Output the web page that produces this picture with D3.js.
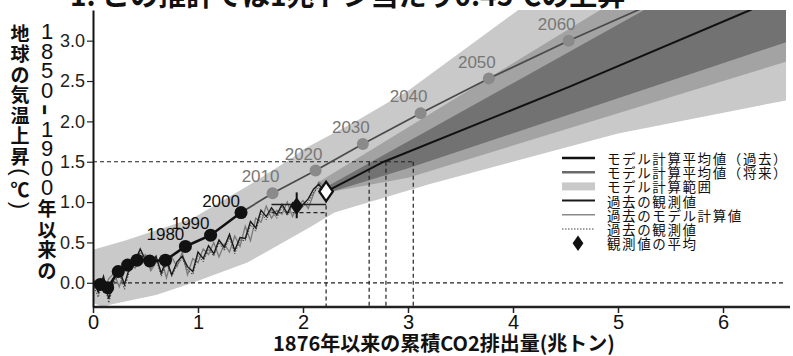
<!DOCTYPE html>
<html>
<head>
<meta charset="utf-8">
<script src="https://cdn.jsdelivr.net/npm/d3@7"></script>
<style>
  body { margin: 0; background: #fff; }
  svg { display: block; }
</style>
</head>
<body>
<div id="chart"></div>
<script>
// ---- data ----
var titleText = "1. この推計では1兆トン当たり0.45℃の上昇";
var xTicks = [0, 1, 2, 3, 4, 5, 6];
var yTicks = [0.0, 0.5, 1.0, 1.5, 2.0, 2.5, 3.0];
var xTitle = "1876年以来の累積CO2排出量(兆トン)";
var yTitleA = "地球の気温上昇(℃)";
var yTitleB = "1850-1900年以来の";

// model range bands [co2, temp]
var lightUpper = [[0,0.41],[0.3,0.52],[0.95,0.8],[1.5,1.22],[1.9,1.55],[2.0,1.65],[2.5,2.0],[3.0,2.38],[4.05,3.38],[6.6,5.3]];
var lightLower = [[0,-0.25],[0.1,-0.3],[0.17,-0.27],[0.6,-0.15],[0.95,0.0],[1.47,0.25],[2.07,0.69],[2.3,0.87],[3.2,1.22],[5.0,1.85],[6.6,2.26]];
var medUpper = [[2.15,1.25],[4.83,3.38],[6.6,4.85]];
var medLower = [[2.15,1.1],[3.0,1.3],[6.6,2.74]];
var darkUpper = [[2.2,1.17],[5.25,3.38],[6.6,4.35]];
var darkLower = [[2.2,1.1],[3.0,1.42],[6.6,2.98]];

// model mean, past (black) and future (grey)
var pastX = [0.0, 0.07, 0.14, 0.24, 0.33, 0.42, 0.54, 0.69, 0.88, 1.12, 1.41];
var pastY = [0.0, -0.02, -0.06, 0.14, 0.22, 0.28, 0.27, 0.28, 0.45, 0.59, 0.87];
var pastLabels = ["", "", "", "", "", "", "", "", "1980", "1990", "2000"];
var futX = [1.41, 1.71, 2.12, 2.57, 3.12, 3.77, 4.53, 5.4];
var futY = [0.87, 1.11, 1.39, 1.72, 2.10, 2.53, 3.0, 3.5];
var futLabels = ["", "2010", "2020", "2030", "2040", "2050", "2060", ""];

// projection from the observed point
var projX = [2.22, 2.77, 4.54, 6.26, 6.6];
var projY = [1.13, 1.5, 2.43, 3.38, 3.6];

// yearly-ish history
var histX = [0,0.05,0.1,0.15,0.2,0.25,0.3,0.35,0.4,0.45,0.5,0.55,0.6,0.65,0.7,0.75,0.8,0.85,0.9,0.95,1.0,1.05,1.1,1.15,1.2,1.25,1.3,1.35,1.4,1.45,1.5,1.55,1.6,1.65,1.7,1.75,1.8,1.85,1.9,1.95,2.0,2.05,2.1,2.15,2.2];
var obsA = [0.05,-0.12,0.08,-0.2,0.06,0.16,-0.02,0.2,0.27,0.42,0.28,0.22,0.33,0.12,0.28,0.1,0.26,0.33,0.2,0.14,0.38,0.3,0.46,0.36,0.53,0.44,0.6,0.4,0.56,0.55,0.76,0.68,0.9,0.82,0.93,0.84,0.97,0.86,0.99,0.9,0.97,1.04,1.16,1.22,1.14];
var modelPast = [0.0,0.02,-0.1,0.05,0.12,-0.05,0.15,0.25,0.18,0.3,0.35,0.15,0.25,0.3,0.06,0.32,0.2,0.38,0.1,0.3,0.25,0.42,0.35,0.5,0.32,0.48,0.38,0.58,0.45,0.7,0.52,0.8,0.75,0.95,0.8,0.9,0.85,1.0,0.82,0.95,1.02,0.92,1.1,1.25,1.2];
var obsB = [-0.02,-0.18,0.04,-0.25,0.0,0.12,-0.08,0.16,0.24,0.38,0.26,0.18,0.3,0.08,0.24,0.08,0.22,0.3,0.16,0.1,0.34,0.26,0.42,0.33,0.5,0.4,0.56,0.36,0.53,0.52,0.72,0.64,0.86,0.78,0.9,0.8,0.94,0.83,0.96,0.87,0.94,1.0,1.12,1.18,1.1];

// observed mean and the reading lines
var obsMean = {x: 1.94, y: 0.95, lo: 0.8, hi: 1.12, from: 1.7, to: 2.22, level: 0.97, dashLevel: 0.87};
var nowPoint = [2.22, 1.13];
var budgetX = [2.63, 2.79, 3.05];
var limitY = 1.5;

var legendLabels = ["モデル計算平均値（過去）", "モデル計算平均値（将来）", "モデル計算範囲", "過去の観測値", "過去のモデル計算値", "過去の観測値", "観測値の平均"];

// ---- drawing ----
var width = 793, height = 356;
var jp = "'Noto Sans CJK JP', 'Noto Sans', sans-serif";
var latin = "'Liberation Sans', Arial, sans-serif";

var x = d3.scaleLinear().domain([0, 6.6]).range([93, 786]);
var y = d3.scaleLinear().domain([-0.3, 3.38]).range([307, 10]);

var svg = d3.select("#chart").append("svg")
            .attr("width", width)
            .attr("height", height);

svg.append("defs").append("clipPath").attr("id", "plot")
   .append("rect")
   .attr("x", x(0)).attr("y", y(3.38))
   .attr("width", x(6.6) - x(0)).attr("height", y(-0.3) - y(3.38));

// title, cut off at the top like the source
svg.append("text")
   .attr("x", 70).attr("y", 6)
   .attr("font-family", jp).attr("font-weight", "bold").attr("font-size", 28)
   .attr("fill", "#111")
   .text(titleText);

var plot = svg.append("g").attr("clip-path", "url(#plot)");

function band(upper, lower) {
  return d3.line().x(function (d) { return x(d[0]); }).y(function (d) { return y(d[1]); })(upper.concat(lower.slice().reverse())) + "Z";
}
plot.append("path").attr("d", band(lightUpper, lightLower)).attr("fill", "#c9c9c9");
plot.append("path").attr("d", band(medUpper, medLower)).attr("fill", "#a3a3a3");
plot.append("path").attr("d", band(darkUpper, darkLower)).attr("fill", "#727272");

// dashed guide lines
var dash = plot.append("g").attr("stroke", "#222").attr("stroke-width", 1.2)
               .attr("stroke-dasharray", "4,3").attr("fill", "none");
dash.append("line").attr("x1", x(0)).attr("x2", x(6.6)).attr("y1", y(0)).attr("y2", y(0));
dash.append("line").attr("x1", x(0)).attr("x2", x(d3.max(budgetX))).attr("y1", y(limitY)).attr("y2", y(limitY));
budgetX.forEach(function (b) {
  dash.append("line").attr("x1", x(b)).attr("x2", x(b)).attr("y1", y(limitY)).attr("y2", y(-0.3));
});
dash.append("line").attr("x1", x(nowPoint[0])).attr("x2", x(nowPoint[0])).attr("y1", y(nowPoint[1])).attr("y2", y(-0.3));
dash.append("line").attr("x1", x(obsMean.from)).attr("x2", x(obsMean.to))
    .attr("y1", y(obsMean.dashLevel)).attr("y2", y(obsMean.dashLevel));

// noisy history
var hist = d3.line().x(function (d, i) { return x(histX[i]); }).y(function (d) { return y(d); });
plot.append("path").attr("d", hist(modelPast)).attr("fill", "none").attr("stroke", "#7a7a7a").attr("stroke-width", 1.3);
plot.append("path").attr("d", hist(obsB)).attr("fill", "none").attr("stroke", "#444").attr("stroke-width", 1).attr("stroke-dasharray", "1.5,1.5");
plot.append("path").attr("d", hist(obsA)).attr("fill", "none").attr("stroke", "#1a1a1a").attr("stroke-width", 1.4);

// observed mean bar
plot.append("line").attr("x1", x(obsMean.from)).attr("x2", x(obsMean.to))
    .attr("y1", y(obsMean.level)).attr("y2", y(obsMean.level))
    .attr("stroke", "#222").attr("stroke-width", 1.5);
plot.append("line").attr("x1", x(obsMean.x)).attr("x2", x(obsMean.x))
    .attr("y1", y(obsMean.lo)).attr("y2", y(obsMean.hi))
    .attr("stroke", "#111").attr("stroke-width", 2);

// mean lines
var xy = d3.line().x(function (d) { return x(d[0]); }).y(function (d) { return y(d[1]); });
var futPts = futX.map(function (v, i) { return [v, futY[i]]; });
var pastPts = pastX.map(function (v, i) { return [v, pastY[i]]; });
var projPts = projX.map(function (v, i) { return [v, projY[i]]; });

plot.append("path").attr("d", xy(futPts)).attr("fill", "none").attr("stroke", "#4a4a4a").attr("stroke-width", 1.7);
plot.append("path").attr("d", xy(projPts)).attr("fill", "none").attr("stroke", "#111").attr("stroke-width", 2);
plot.append("path").attr("d", xy(pastPts)).attr("fill", "none").attr("stroke", "#111").attr("stroke-width", 2.6);

plot.selectAll("circle.fut").data(futPts.slice(1)).enter().append("circle")
    .attr("class", "fut").attr("cx", function (d) { return x(d[0]); }).attr("cy", function (d) { return y(d[1]); })
    .attr("r", 6).attr("fill", "#8a8a8a");
plot.selectAll("circle.past").data(pastPts.slice(1)).enter().append("circle")
    .attr("class", "past").attr("cx", function (d) { return x(d[0]); }).attr("cy", function (d) { return y(d[1]); })
    .attr("r", 6.5).attr("fill", "#111");

// diamonds
var diamond = d3.symbol().type(d3.symbolDiamond);
plot.append("path").attr("d", diamond.size(90)())
    .attr("transform", "translate(" + x(obsMean.x) + "," + y(obsMean.y) + ") scale(1.25,1)")
    .attr("fill", "#111");
plot.append("path").attr("d", diamond.size(110)())
    .attr("transform", "translate(" + x(nowPoint[0]) + "," + y(nowPoint[1]) + ") scale(1.2,1)")
    .attr("fill", "#fff").attr("stroke", "#111").attr("stroke-width", 2);

// year labels
futLabels.forEach(function (t, i) {
  if (!t) return;
  svg.append("text").attr("x", x(futX[i]) - 12).attr("y", y(futY[i]) - 11)
     .attr("text-anchor", "middle").attr("font-family", latin).attr("font-size", 17)
     .attr("fill", "#777").text(t);
});
pastLabels.forEach(function (t, i) {
  if (!t) return;
  svg.append("text").attr("x", x(pastX[i]) - 20).attr("y", y(pastY[i]) - 6)
     .attr("text-anchor", "middle").attr("font-family", latin).attr("font-size", 17)
     .attr("fill", "#111").text(t);
});

// axes
var xAxis = svg.append("g").attr("transform", "translate(0," + y(-0.3) + ")")
               .call(d3.axisBottom(x).tickValues(xTicks).tickSize(6).tickSizeOuter(0).tickFormat(d3.format("d")));
xAxis.select(".domain").attr("stroke", "#222").attr("stroke-width", 2.5).attr("d", "M" + x(0) + ",0H790");
xAxis.selectAll(".tick line").attr("stroke", "#222").attr("stroke-width", 1.5);
xAxis.selectAll(".tick text").attr("font-family", latin).attr("font-size", 20).attr("fill", "#111").attr("y", 8);

var yAxis = svg.append("g").attr("transform", "translate(" + x(0) + ",0)")
               .call(d3.axisLeft(y).tickValues(yTicks).tickSize(6).tickSizeOuter(0).tickFormat(d3.format(".1f")));
yAxis.select(".domain").attr("stroke", "#111").attr("stroke-width", 2);
yAxis.selectAll(".tick line").attr("stroke", "#222").attr("stroke-width", 1.2);
yAxis.selectAll(".tick text").attr("font-family", latin).attr("font-size", 18).attr("fill", "#222").attr("x", -8);

svg.append("text").attr("x", 444).attr("y", 351).attr("text-anchor", "middle")
   .attr("font-family", jp).attr("font-weight", "bold").attr("font-size", 20).attr("fill", "#111")
   .text(xTitle);

// vertical y title, one glyph at a time
function column(str, cx, top) {
  var cy = top;
  Array.from(str).forEach(function (ch) {
    var narrow = /[0-9\-()]/.test(ch);
    var step = narrow ? 19.5 : 20.5;
    if (ch === "(" || ch === ")") step = 13;
    cy += step / 2;
    var t = svg.append("text").attr("x", cx).attr("y", cy)
       .attr("text-anchor", "middle").attr("dominant-baseline", "central")
       .attr("font-family", narrow ? latin : jp).attr("font-weight", narrow ? "normal" : "bold")
       .attr("font-size", ch === "-" ? 36 : (narrow ? 22 : 19)).attr("fill", "#111").text(ch);
    if (ch === "-" || ch === "(" || ch === ")") t.attr("transform", "rotate(90," + cx + "," + cy + ")");
    cy += step / 2;
  });
}
column(yTitleA, 20, 22);
column(yTitleB, 47, 22);

// legend
var lg = svg.append("g").attr("transform", "translate(562,158)");
var rowH = 14.2;
legendLabels.forEach(function (t, i) {
  var g = lg.append("g").attr("transform", "translate(0," + (i * rowH) + ")");
  if (i === 0) g.append("line").attr("x2", 33).attr("stroke", "#111").attr("stroke-width", 2.6);
  if (i === 1) g.append("line").attr("x2", 33).attr("stroke", "#6a6a6a").attr("stroke-width", 2.6);
  if (i === 2) g.append("rect").attr("y", -4).attr("width", 33).attr("height", 8).attr("fill", "#c9c9c9");
  if (i === 3) g.append("line").attr("x2", 33).attr("stroke", "#1a1a1a").attr("stroke-width", 2);
  if (i === 4) g.append("line").attr("x2", 33).attr("stroke", "#8a8a8a").attr("stroke-width", 1.5);
  if (i === 5) g.append("line").attr("x2", 33).attr("stroke", "#444").attr("stroke-width", 1).attr("stroke-dasharray", "1.5,1.5");
  if (i === 6) g.append("path").attr("d", diamond.size(70)()).attr("transform", "translate(16,0) scale(1.2,1)").attr("fill", "#111");
  g.append("text").attr("x", 45).attr("y", 0).attr("dominant-baseline", "central")
   .attr("font-family", jp).attr("font-size", 13.5).attr("letter-spacing", 1.6).attr("fill", "#111").text(t);
});
</script>
</body>
</html>
